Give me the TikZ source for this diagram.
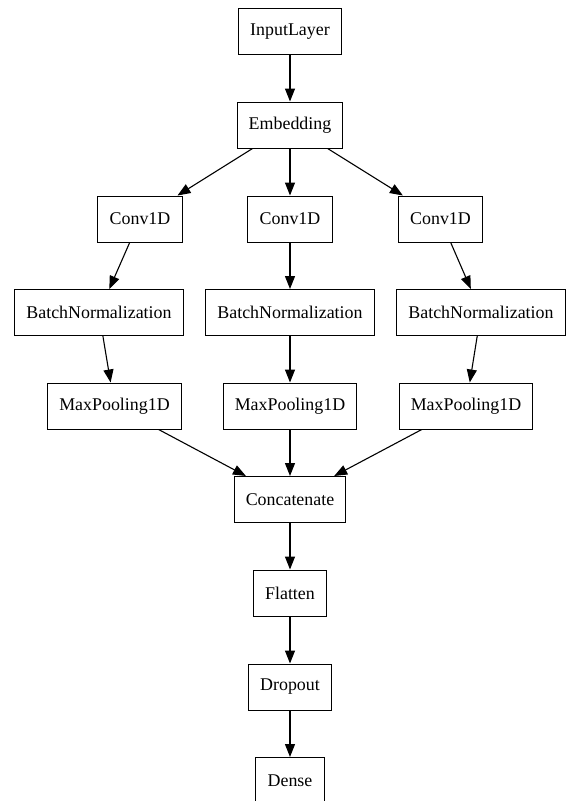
\documentclass[tikz,border=0pt]{standalone}
\usepackage{fontspec}
\setmainfont{Liberation Serif}
\usetikzlibrary{arrows.meta}

\tikzset{layer/.style={draw,line width=1pt,fill=white,font=\fontsize{17.9}{20}\selectfont,
  inner xsep=11.7pt,minimum width=69pt,minimum height=46pt}}

\begin{document}
\begin{tikzpicture}[x=1pt,y=-1pt,line width=1.1pt,>={Triangle[length=13pt,width=10pt]}]
\useasboundingbox (0,0) rectangle (566,801);
\node[layer] (input) at (290,31.5) {InputLayer};
\node[layer] (embed) at (290,125) {Embedding};
\node[layer] (convL) at (140,219) {Conv1D};
\node[layer] (convM) at (290,219) {Conv1D};
\node[layer] (convR) at (440.5,219) {Conv1D};
\node[layer] (bnL) at (99,312.5) {BatchNormalization};
\node[layer] (bnM) at (290,312.5) {BatchNormalization};
\node[layer] (bnR) at (481,312.5) {BatchNormalization};
\node[layer] (poolL) at (114.5,406) {MaxPooling1D};
\node[layer] (poolM) at (290,406) {MaxPooling1D};
\node[layer] (poolR) at (466,406) {MaxPooling1D};
\node[layer] (concat) at (290,499.5) {Concatenate};
\node[layer] (flat) at (290,593) {Flatten};
\node[layer] (drop) at (290,687) {Dropout};
\node[layer] (dense) at (290,780.5) {Dense};
\draw[->] (input) -- (embed);
\foreach \b in {L,M,R}{
\draw[->] (embed) -- (conv\b);
\draw[->] (conv\b) -- (bn\b);
\draw[->] (bn\b) -- (pool\b);
\draw[->] (pool\b) -- (concat);
}
\draw[->] (concat) -- (flat);
\draw[->] (flat) -- (drop);
\draw[->] (drop) -- (dense);
\end{tikzpicture}
\end{document}
